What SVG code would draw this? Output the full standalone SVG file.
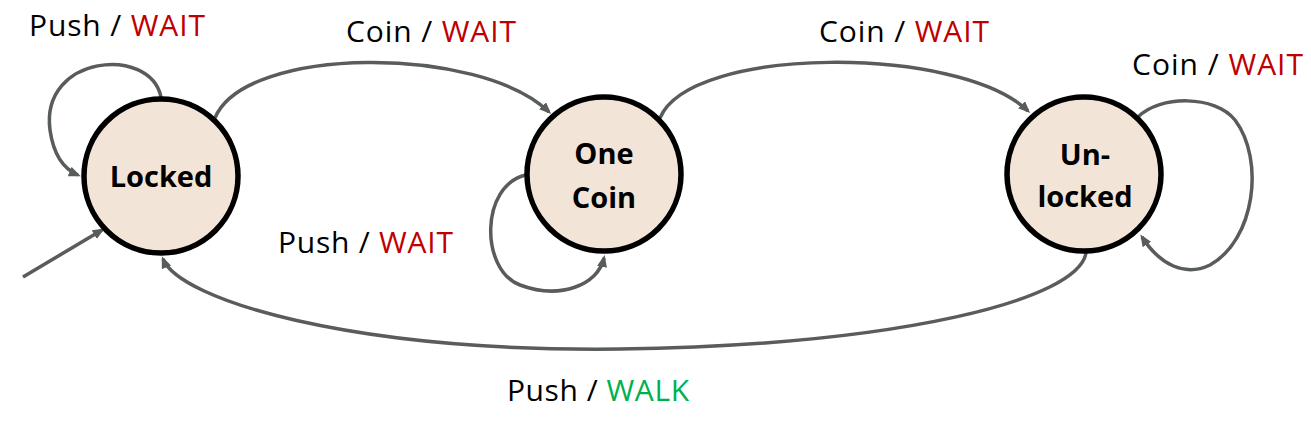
<svg xmlns="http://www.w3.org/2000/svg" width="1311" height="430" viewBox="0 0 1311 430">
<style>
.node{fill:#F3E4D8;stroke:#000;stroke-width:5.5}
.ntext{font-family:"Open Sans","Liberation Sans",sans-serif;font-weight:bold;font-size:29px;fill:#000;text-anchor:middle}
.edge{fill:none;stroke:#585C5B;stroke-width:3.5;marker-end:url(#arr)}
.lbl{font-family:"Open Sans","Liberation Sans",sans-serif;font-size:30px;fill:#000}
.red{fill:#C00000}
.green{fill:#00B050}
</style>
<defs>
<marker id="arr" markerUnits="userSpaceOnUse" markerWidth="14" markerHeight="12" refX="9" refY="5" orient="auto">
<path d="M0,0 L12,5 L0,10 z" fill="#585C5B"/>
</marker>
</defs>
<g id="connectors">
<path class="edge" d="M161,97 C150,45 40,55 50,130 C54,158 66,170 78,175"/>
<line class="edge" x1="23" y1="277" x2="102" y2="230"/>
<path class="edge" d="M215,118 C245,45 480,45 549,112"/>
<path class="edge" d="M660,118 C690,45 960,45 1028,111"/>
<path class="edge" d="M526,175 C480,185 480,270 520,285 C560,300 598,285 604,258"/>
<path class="edge" d="M1138,117 C1160,95 1215,95 1235,120 C1265,160 1255,240 1210,265 C1185,277 1160,265 1142,237"/>
<path class="edge" d="M1086,253 C1078,300 900,345 620,349 C350,352 180,300 163,259"/>
</g>
<g id="node-locked">
<circle class="node" cx="161" cy="176" r="77"/>
<text class="ntext" x="161" y="187">Locked</text>
</g>
<g id="node-onecoin">
<circle class="node" cx="604" cy="174" r="77"/>
<text class="ntext" x="604" y="164">One</text>
<text class="ntext" x="604" y="208">Coin</text>
</g>
<g id="node-unlocked">
<circle class="node" cx="1084" cy="174" r="77"/>
<text class="ntext" x="1085" y="165">Un-</text>
<text class="ntext" x="1085" y="207">locked</text>
</g>
<g id="labels">
<text class="lbl" x="29" y="36" textLength="176" lengthAdjust="spacing">Push / <tspan class="red">WAIT</tspan></text>
<text class="lbl" x="346" y="42" textLength="170" lengthAdjust="spacing">Coin / <tspan class="red">WAIT</tspan></text>
<text class="lbl" x="819" y="42" textLength="170" lengthAdjust="spacing">Coin / <tspan class="red">WAIT</tspan></text>
<text class="lbl" x="1132" y="75" textLength="171" lengthAdjust="spacing">Coin / <tspan class="red">WAIT</tspan></text>
<text class="lbl" x="278" y="253" textLength="175" lengthAdjust="spacing">Push / <tspan class="red">WAIT</tspan></text>
<text class="lbl" x="507" y="401" textLength="182" lengthAdjust="spacing">Push / <tspan class="green">WALK</tspan></text>
</g>
</svg>
